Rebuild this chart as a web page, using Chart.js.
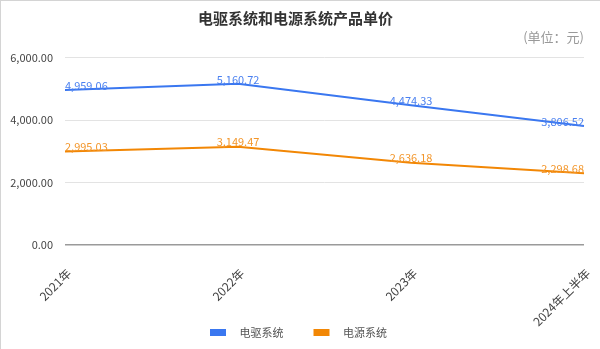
<!DOCTYPE html>
<html>
<head>
<meta charset="utf-8">
<script src="https://cdn.jsdelivr.net/npm/chart.js@4/dist/chart.umd.min.js"></script>
<style>
	body { margin: 0; background: #fff; }
	#wrap { width: 599px; height: 348px; border-left: 1px solid #d4d4d4; border-top: 1px solid #d4d4d4; }
</style>
</head>
<body>
<div id="wrap"><canvas id="chart" width="599" height="348"></canvas></div>
<script>

	// Categories (x axis)
	const years = [ "2021年", "2022年", "2023年", "2024年上半年" ];

	// Series values (元)
	const driveSystem = [ 4959.06, 5160.72, 4474.33, 3806.52 ];
	const powerSystem = [ 2995.03, 3149.47, 2636.18, 2298.68 ];

	// Y axis ticks
	const yTicks = [ 0, 2000, 4000, 6000 ];

	const fontFamily = "'Noto Sans CJK SC', 'Noto Sans', sans-serif";

	const fmt = v => v.toLocaleString( "en-US", { minimumFractionDigits: 2, maximumFractionDigits: 2 } );

	/*
	 * Legend swatch: a 16x7 box inside a wider transparent canvas,
	 * so the gap between box and text matches the original.
	 */
	const swatch = function( color )
	{
		const c = document.createElement( "canvas" );
		c.width = 30;
		c.height = 7;
		const g = c.getContext( "2d" );
		g.fillStyle = color;
		g.fillRect( 6, 0, 16, 7 );
		return( c );
	};

	/*
	 * Draw value labels over each point.
	 */
	const valueLabels = {
		id: "valueLabels",
		afterLayout: function( chart )
		{
			// Let the rotated x labels run below the axis box.
			chart.scales.x.bottom = chart.height;
		},
		afterDatasetsDraw: function( chart )
		{
			const ctx = chart.ctx;
			ctx.save();
			ctx.font = "11px " + fontFamily;
			ctx.textBaseline = "bottom";
			chart.data.datasets.forEach( ( ds, i ) =>
			{
				const meta = chart.getDatasetMeta( i );
				meta.data.forEach( ( pt, j ) =>
				{
					ctx.fillStyle = ds.labelColor;
					ctx.textAlign = j === 0 ? "left" : j === meta.data.length - 1 ? "right" : "center";
					ctx.fillText( fmt( ds.data[j] ), pt.x, pt.y + 1 );
				});
			});
			ctx.restore();
		}
	};

	new Chart( document.getElementById( "chart" ), {
		type: "line",
		data: {
			labels: years,
			datasets: [
				{
					label: "电驱系统",
					data: driveSystem,
					borderColor: "#3a77f0",
					backgroundColor: "#3a77f0",
					labelColor: "#4a80f0",
					pointStyle: swatch( "#3a77f0" ),
					borderWidth: 2,
					pointRadius: 0,
					tension: 0
				},
				{
					label: "电源系统",
					data: powerSystem,
					borderColor: "#f28705",
					backgroundColor: "#f28705",
					labelColor: "#f3962a",
					pointStyle: swatch( "#f28705" ),
					borderWidth: 2,
					pointRadius: 0,
					tension: 0
				}
			]
		},
		options: {
			responsive: false,
			animation: false,
			layout: {
				padding: { left: 6, right: 16, top: 0, bottom: 1 }
			},
			plugins: {
				title: {
					display: true,
					text: "电驱系统和电源系统产品单价",
					color: "#333",
					font: { family: fontFamily, size: 15, weight: "bold" },
					padding: { top: 8, bottom: 2 }
				},
				subtitle: {
					display: true,
					text: "(单位：元)",
					align: "end",
					color: "#999",
					font: { family: fontFamily, size: 13 },
					padding: { top: 0, bottom: 13 }
				},
				legend: {
					position: "bottom",
					maxHeight: 46,
					labels: {
						usePointStyle: true,
						pointStyleWidth: 30,
						boxHeight: 7,
						padding: 24,
						color: "#555",
						font: { family: fontFamily, size: 11 }
					}
				},
				tooltip: { enabled: false }
			},
			scales: {
				x: {
					offset: false,
					grid: { display: false },
					border: { display: false },
					afterFit: scale => { scale.height = 58; scale.paddingRight = 0; },
					ticks: {
						color: "#444",
						font: { family: fontFamily, size: 12 },
						minRotation: 45,
						maxRotation: 45,
						padding: 13,
						labelOffset: 4
					}
				},
				y: {
					min: 0,
					max: 6000,
					afterBuildTicks: scale => { scale.ticks = yTicks.map( v => ({ value: v }) ); },
					afterFit: scale => { scale.width = 58; },
					border: { display: false },
					grid: {
						color: ctx => ctx.tick && ctx.tick.value === 0 ? "#9a9a9a" : "#e3e3e3",
						lineWidth: ctx => ctx.tick && ctx.tick.value === 0 ? 1.5 : 1,
						drawTicks: false
					},
					ticks: {
						color: "#444",
						padding: 12,
						font: { family: fontFamily, size: 11 },
						callback: v => fmt( v )
					}
				}
			}
		},
		plugins: [ valueLabels ]
	});
</script>
</body>
</html>
